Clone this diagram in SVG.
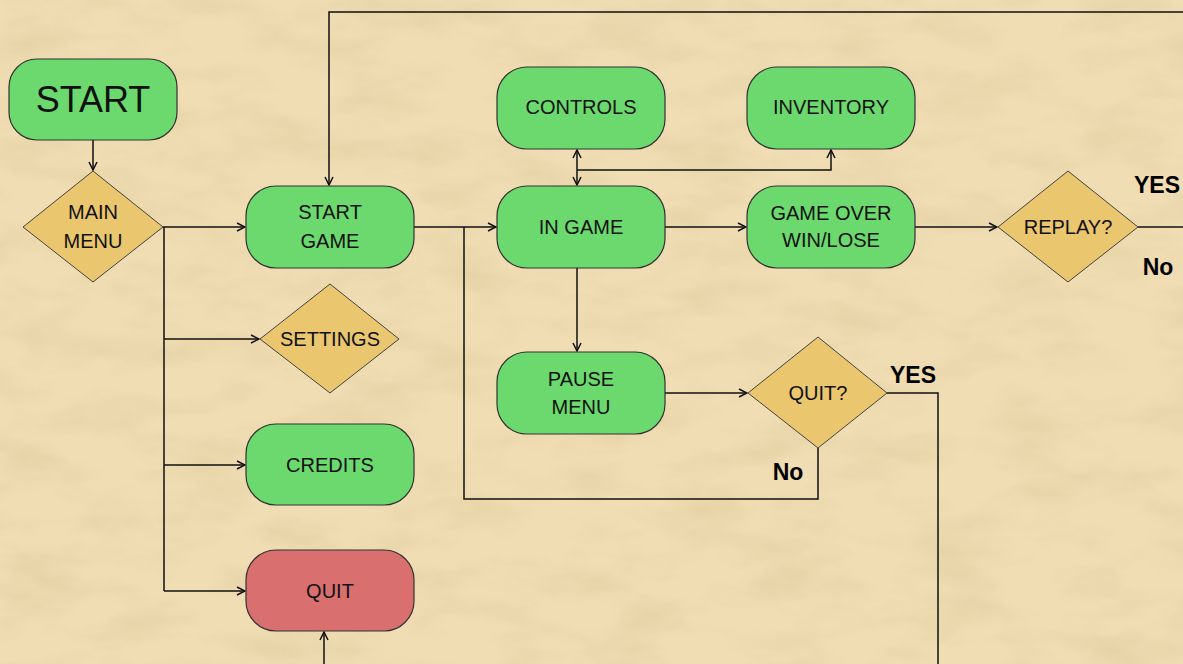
<svg xmlns="http://www.w3.org/2000/svg" width="1183" height="664" viewBox="0 0 1183 664">
<defs>
<style>
.term{fill:#6CD96E;stroke:#333;stroke-width:1.2}
.quit{fill:#D96F6F;stroke:#333;stroke-width:1.2}
.dec{fill:#EAC66E;stroke:#444;stroke-width:1}
.lbl{font-family:"Liberation Sans","DejaVu Sans",sans-serif;font-size:20px;fill:#111;text-anchor:middle;dominant-baseline:central}
.big{font-size:36px}
.yn{font-family:"Liberation Sans","DejaVu Sans",sans-serif;font-size:23px;font-weight:bold;fill:#000;text-anchor:middle;dominant-baseline:central}
.con{fill:none;stroke:#111;stroke-width:1.5}
</style>
<marker id="ah" viewBox="0 0 10 10" refX="9" refY="5" markerWidth="10" markerHeight="10" markerUnits="userSpaceOnUse" orient="auto-start-reverse">
<path d="M1,1 L9,5 L1,9" fill="none" stroke="#111" stroke-width="1.5"/>
</marker>
<filter id="paper" x="0" y="0" width="100%" height="100%">
<feTurbulence type="fractalNoise" baseFrequency="0.012 0.03" numOctaves="4" seed="3" result="n"/>
<feColorMatrix in="n" type="matrix" values="0 0 0 0 0.55  0 0 0 0 0.42  0 0 0 0 0.2  0 0 0 1.1 -0.45"/>
</filter>
</defs>
<rect width="1183" height="664" fill="#F0DDB3"/>
<rect width="1183" height="664" filter="url(#paper)" opacity="0.4"/>

<g id="connectors">
<path class="con" d="M93,140 V170" marker-end="url(#ah)"/>
<path class="con" d="M163,227 H245" marker-end="url(#ah)"/>
<path class="con" d="M164,227 V591"/>
<path class="con" d="M164,339 H259" marker-end="url(#ah)"/>
<path class="con" d="M164,465 H245" marker-end="url(#ah)"/>
<path class="con" d="M164,591 H245" marker-end="url(#ah)"/>
<path class="con" d="M324,664 V632" marker-end="url(#ah)"/>
<path class="con" d="M1183,12 H329 V185" marker-end="url(#ah)"/>
<path class="con" d="M414,227 H496" marker-end="url(#ah)"/>
<path class="con" d="M464,227 V499 H818 V448"/>
<path class="con" d="M577,150 V185" marker-start="url(#ah)" marker-end="url(#ah)"/>
<path class="con" d="M577,170 H831 V150" marker-end="url(#ah)"/>
<path class="con" d="M665,227 H746" marker-end="url(#ah)"/>
<path class="con" d="M915,227 H997" marker-end="url(#ah)"/>
<path class="con" d="M1138,227 H1183"/>
<path class="con" d="M577,268 V351" marker-end="url(#ah)"/>
<path class="con" d="M665,393 H747" marker-end="url(#ah)"/>
<path class="con" d="M887,393 H938 V664"/>
<text class="yn" x="1157" y="185">YES</text>
<text class="yn" x="1158" y="267">No</text>
<text class="yn" x="913" y="375">YES</text>
<text class="yn" x="788" y="472">No</text>
</g>

<g id="start"><rect class="term" x="9" y="59" width="168" height="81" rx="28"/><text class="lbl big" x="93" y="99">START</text></g>
<g id="main-menu"><polygon class="dec" points="93,171 163,227 93,282 23,227"/><text class="lbl" x="93" y="212">MAIN</text><text class="lbl" x="93" y="241">MENU</text></g>
<g id="start-game"><rect class="term" x="246" y="186" width="168" height="82" rx="30"/><text class="lbl" x="330" y="212">START</text><text class="lbl" x="330" y="241">GAME</text></g>
<g id="settings"><polygon class="dec" points="330,284 399,339 330,393 260,339"/><text class="lbl" x="330" y="339">SETTINGS</text></g>
<g id="credits"><rect class="term" x="246" y="424" width="168" height="81" rx="30"/><text class="lbl" x="330" y="465">CREDITS</text></g>
<g id="quit"><rect class="quit" x="246" y="550" width="168" height="81" rx="30"/><text class="lbl" x="330" y="591">QUIT</text></g>
<g id="controls"><rect class="term" x="497" y="67" width="168" height="82" rx="30"/><text class="lbl" x="581" y="107">CONTROLS</text></g>
<g id="inventory"><rect class="term" x="747" y="67" width="168" height="82" rx="30"/><text class="lbl" x="831" y="107">INVENTORY</text></g>
<g id="in-game"><rect class="term" x="497" y="186" width="168" height="82" rx="30"/><text class="lbl" x="581" y="227">IN GAME</text></g>
<g id="game-over"><rect class="term" x="747" y="186" width="168" height="82" rx="30"/><text class="lbl" x="831" y="213">GAME OVER</text><text class="lbl" x="831" y="240">WIN/LOSE</text></g>
<g id="replay"><polygon class="dec" points="1068,171 1138,227 1068,282 998,227"/><text class="lbl" x="1068" y="227">REPLAY?</text></g>
<g id="pause-menu"><rect class="term" x="497" y="352" width="168" height="82" rx="30"/><text class="lbl" x="581" y="379">PAUSE</text><text class="lbl" x="581" y="407">MENU</text></g>
<g id="quit-q"><polygon class="dec" points="818,337 887,393 818,448 748,393"/><text class="lbl" x="818" y="393">QUIT?</text></g>
</svg>
